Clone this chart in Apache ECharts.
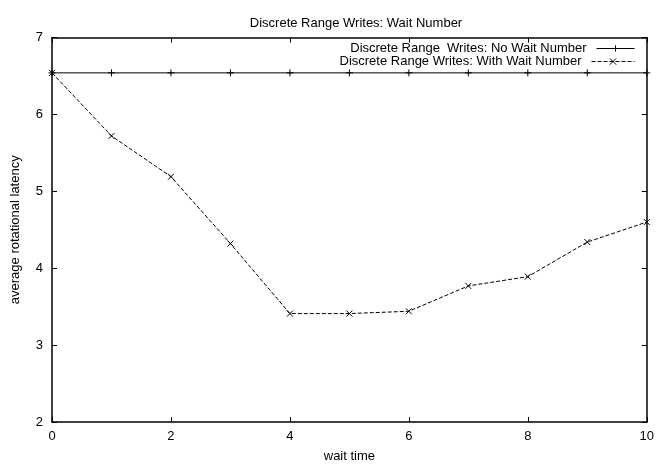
<!DOCTYPE html>
<html>
<head>
<meta charset="utf-8">
<script src="https://cdn.jsdelivr.net/npm/echarts@6/dist/echarts.min.js"></script>
<style>
html,body{margin:0;padding:0;background:#fff;}
#chart{width:657px;height:468px;}
</style>
</head>
<body>
<div id="chart"></div>
<script>
const titleText = 'Discrete Range Writes: Wait Number';
const xName = 'wait time';
const yName = 'average rotational latency';
const seriesNames = ['Discrete Range  Writes: No Wait Number', 'Discrete Range Writes: With Wait Number'];
const waitTimes = [0, 1, 2, 3, 4, 5, 6, 7, 8, 9, 10];
const noWait = [6.54, 6.54, 6.54, 6.54, 6.54, 6.54, 6.54, 6.54, 6.54, 6.54, 6.54];
const withWait = [6.54, 5.72, 5.19, 4.32, 3.41, 3.41, 3.44, 3.77, 3.89, 4.34, 4.60];
const xTicks = [0, 2, 4, 6, 8, 10];
const yTicks = [2, 3, 4, 5, 6, 7];

const font = 'Liberation Sans, Arial, Helvetica, sans-serif';
const PLUS = 'path://M0,5L10,5M5,0L5,10';
const CROSS = 'path://M0,0L10,10M0,10L10,0';

const chart = echarts.init(document.getElementById('chart'), null, {renderer: 'canvas'});

function zipPts(xs, ys) { return xs.map((x, i) => [x, ys[i]]); }

const axisCommon = {
  type: 'value',
  axisLine: {show: true, onZero: false, lineStyle: {color: '#000', width: 1.5}},
  axisTick: {show: true, inside: true, length: 5, lineStyle: {color: '#000', width: 1}},
  splitLine: {show: false},
  axisLabel: {color: '#000', fontFamily: font, fontSize: 13}
};

const legendCommon = {
  align: 'right', orient: 'vertical', padding: 0, right: 22,
  itemHeight: 8,
  lineStyle: {width: 1},
  itemStyle: {borderWidth: 1},
  textStyle: {fontFamily: font, fontSize: 13, color: '#000', padding: [0, 5, 0, 0]}
};

const option = {
  animation: false,
  backgroundColor: '#fff',
  title: {
    text: titleText,
    left: 351, top: 12, textAlign: 'center',
    textStyle: {fontFamily: font, fontSize: 13, fontWeight: 'normal', color: '#000'}
  },
  legend: [
    Object.assign({}, legendCommon, {data: [seriesNames[0]], top: 42, itemWidth: 38}),
    Object.assign({}, legendCommon, {data: [seriesNames[1]], top: 55, itemWidth: 43})
  ],
  grid: {left: 52, right: 6, top: 37.5, bottom: 39, containLabel: false},
  xAxis: [
    Object.assign({}, axisCommon, {
      position: 'bottom', min: xTicks[0], max: xTicks[xTicks.length - 1], interval: 2,
      name: xName, nameLocation: 'middle', nameGap: 28,
      nameTextStyle: {fontFamily: font, fontSize: 13, color: '#000'},
      axisLabel: {color: '#000', fontFamily: font, fontSize: 13, margin: 8}
    }),
    Object.assign({}, axisCommon, {
      position: 'top', min: xTicks[0], max: xTicks[xTicks.length - 1], interval: 2,
      axisLabel: {show: false}
    })
  ],
  yAxis: [
    Object.assign({}, axisCommon, {
      position: 'left', min: yTicks[0], max: yTicks[yTicks.length - 1], interval: 1,
      name: yName, nameLocation: 'middle', nameGap: 30,
      nameTextStyle: {fontFamily: font, fontSize: 13, color: '#000'},
      axisLabel: {color: '#000', fontFamily: font, fontSize: 13, margin: 9}
    }),
    Object.assign({}, axisCommon, {
      position: 'right', min: yTicks[0], max: yTicks[yTicks.length - 1], interval: 1,
      axisLabel: {show: false}
    })
  ],
  series: [
    {
      name: seriesNames[0], type: 'line', xAxisIndex: 0, yAxisIndex: 0,
      data: zipPts(waitTimes, noWait),
      symbol: PLUS, symbolSize: 7, showAllSymbol: true,
      lineStyle: {color: '#000', width: 1, type: 'solid'},
      itemStyle: {color: '#000', borderColor: '#000', borderWidth: 1},
      emphasis: {disabled: true}
    },
    {
      name: seriesNames[1], type: 'line', xAxisIndex: 0, yAxisIndex: 0,
      data: zipPts(waitTimes, withWait),
      symbol: CROSS, symbolSize: 6, showAllSymbol: true,
      lineStyle: {color: '#000', width: 1, type: [4, 2]},
      itemStyle: {color: '#000', borderColor: '#000', borderWidth: 1},
      emphasis: {disabled: true}
    }
  ]
};
chart.setOption(option);
</script>
</body>
</html>
